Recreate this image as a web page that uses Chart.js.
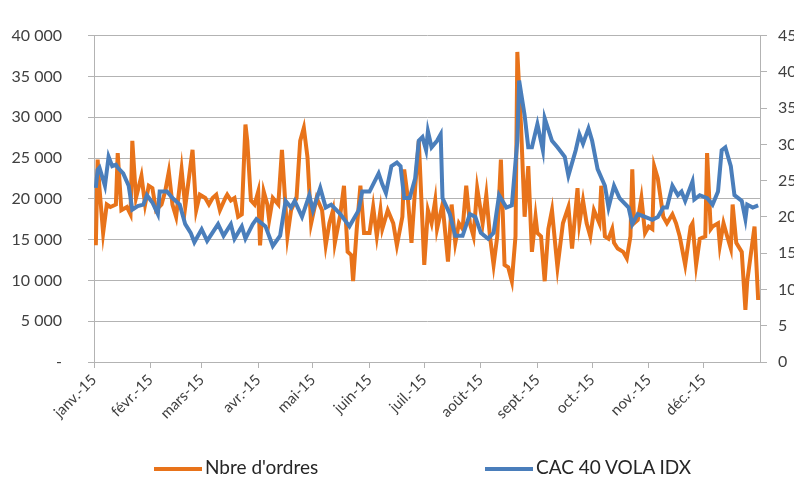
<!DOCTYPE html>
<html>
<head>
<meta charset="utf-8">
<script src="https://cdn.jsdelivr.net/npm/chart.js@4.4.1/dist/chart.umd.min.js"></script>
<style>
  html, body { margin: 0; padding: 0; background: #fff; overflow: hidden; }
  #wrap { position: relative; width: 794px; height: 485px; overflow: hidden; }
  #wrap canvas { position: absolute; left: 0; top: 0; }
  .leg { position: absolute; top: 455px; font: 19px Lato, sans-serif; color: #262626; white-space: nowrap; }
  .leg span { display: inline-block; width: 48px; height: 4px; vertical-align: middle; margin-right: 3px; }
</style>
</head>
<body>
<div id="wrap">
  <canvas id="chart" width="830" height="485"></canvas>
  <div class="leg" style="left:154px"><span style="background:#E8731A"></span>Nbre d'ordres</div>
  <div class="leg" style="left:485px"><span style="background:#4A7EBB"></span>CAC 40 VOLA IDX</div>
</div>
<script>
// x = days since 1 Jan 2015
const monthStarts = [0, 31, 59, 90, 120, 151, 181, 212, 243, 273, 304, 334];
const monthLabels = ["janv.-15", "févr.-15", "mars-15", "avr.-15", "mai-15", "juin-15",
  "juil.-15", "août-15", "sept.-15", "oct.-15", "nov.-15", "déc.-15"];

// Nbre d'ordres (left axis)
const ordresDays = [1,2,3,5,7,9,12,13,15,18,20,21,23,26,28,30,32,34,37,39,41,43,45,48,50,54,56,58,61,63,
  65,67,69,72,73,75,77,79,81,83,84,86,88,90,91,93,95,96,98,101,103,106,108,111,113,115,117,119,122,125,
  127,129,131,132,135,137,139,141,142,144,146,148,151,153,155,157,158,161,164,166,169,170,172,174,176,178,180,181,183,185,
  187,188,191,192,194,196,198,200,202,204,206,208,210,213,215,217,219,221,223,225,227,229,231,232,234,236,238,240,242,243,
  245,247,249,251,253,254,257,260,262,265,266,268,270,272,274,277,278,280,282,284,285,287,290,292,294,295,296,298,300,302,
  304,306,307,309,312,314,317,319,321,324,327,328,330,332,335,336,338,339,342,343,345,347,349,350,352,355,357,358,362,364];
const ordres = [14300,24800,21300,15800,19300,19000,19300,25600,18600,19000,18100,27100,20100,22800,19300,21600,21300,18600,19300,20900,
  23300,19300,17800,23600,19000,26000,18600,20500,20100,19300,20100,20500,18600,20100,20500,19800,20100,17800,18100,29100,
  27100,19800,19300,20900,14300,20900,19300,17400,20100,19300,26000,15400,18600,20100,27100,28700,25100,17000,20100,18600,
  14300,17000,18600,14600,18100,21600,13500,13100,9900,16300,21600,15800,15800,19000,15400,18600,16300,18600,17000,14300,
  17800,23600,20100,14600,21300,27100,17000,11900,18600,17000,19800,16300,19300,17000,12300,19300,14600,17000,16300,21600,
  17000,15400,21300,17000,20500,15400,11900,15400,24800,11900,11600,9900,15400,38000,29100,17800,24000,13500,17800,15800,
  15400,9900,16300,18600,13900,11600,17000,19000,13900,21300,17000,19800,17000,15400,18600,17000,21600,15400,15100,16300,
  14600,13900,13500,12700,15400,23600,17000,17400,20100,15800,16600,16300,24000,22500,17800,17000,18100,17000,15400,11900,
  16600,17000,11900,15100,15400,25600,16300,16600,17000,14300,17000,15400,13900,19300,14600,13500,6400,9900,16600,7600];

// CAC 40 VOLA IDX (right axis)
const volaDays = [1,2,3,6,8,10,12,13,16,19,21,24,27,29,32,35,36,40,43,47,50,53,55,59,62,68,71,75,77,81,
  83,87,89,94,98,102,105,108,110,114,118,120,124,127,130,135,140,145,147,151,156,158,160,163,166,168,170,173,176,178,
  180,182,183,185,188,190,191,195,198,202,206,209,212,216,219,222,226,229,232,233,236,238,240,243,246,247,251,254,258,260,
  264,266,268,271,273,276,280,282,285,288,293,295,298,302,306,309,312,314,317,320,322,324,328,329,332,336,339,342,344,346,
  349,351,355,357,358,361,364];
const vola = [24.0,26.5,26.8,24.3,28.3,27.0,27.2,26.8,26.0,24.3,21.0,21.5,21.7,23.0,22.0,20.4,23.5,23.5,22.6,21.7,19.0,17.8,16.5,18.3,16.7,19.0,17.4,19.0,17.0,18.7,
  17.0,19.0,19.7,18.7,16.0,17.4,22.2,21.3,22.2,20.0,23.0,20.9,24.0,21.3,21.7,20.4,18.7,20.9,23.5,23.5,26.0,24.5,23.3,27.0,27.5,27.0,22.6,22.6,25.3,30.5,
  31.0,29.2,31.8,29.6,30.5,31.4,22.6,20.4,17.4,17.4,20.4,20.0,17.8,17.0,17.8,23.0,21.3,21.6,30.5,38.8,34.0,29.6,29.6,32.8,29.2,33.6,30.5,29.6,28.3,25.7,
  29.2,31.4,30.1,32.2,30.5,26.6,24.3,21.3,24.3,22.6,21.3,19.0,20.4,20.0,19.6,20.0,21.3,21.3,24.3,23.0,23.5,22.2,24.9,22.4,23.0,22.6,21.7,23.5,29.2,29.6,
  27.0,23.0,22.2,19.7,21.7,21.3,21.6];

const leftTicks = [0, 5000, 10000, 15000, 20000, 25000, 30000, 35000, 40000];
const rightTicks = [0, 5, 10, 15, 20, 25, 30, 35, 40, 45];

const fmt = (v) => v === 0 ? "-" : String(v).replace(/\B(?=(\d{3})+(?!\d))/g, " ");
const tickFont = { family: "Lato, sans-serif", size: 16 };
const gridGray = "#b3b3b3";

new Chart(document.getElementById("chart"), {
  type: "line",
  data: {
    datasets: [
      {
        label: "CAC 40 VOLA IDX",
        data: volaDays.map((d, i) => ({ x: d, y: vola[i] })),
        yAxisID: "y1",
        borderColor: "#4A7EBB",
        borderWidth: 4,
        pointRadius: 0,
        tension: 0,
        order: 0,
      },
      {
        label: "Nbre d'ordres",
        data: ordresDays.map((d, i) => ({ x: d, y: ordres[i] })),
        yAxisID: "y",
        borderColor: "#E8731A",
        borderWidth: 4,
        pointRadius: 0,
        tension: 0,
        order: 1,
      },
    ],
  },
  options: {
    responsive: false,
    animation: false,
    layout: { padding: { top: 20, left: 0, right: 0, bottom: 0 } },
    plugins: { legend: { display: false }, tooltip: { enabled: false } },
    scales: {
      x: {
        type: "linear",
        min: 0,
        max: 365,
        afterBuildTicks: (s) => { s.ticks = monthStarts.map((v) => ({ value: v })); },
        afterFit: (s) => { s.height = 123; },
        grid: { display: true, drawOnChartArea: false, color: gridGray, tickLength: 6 },
        border: { color: gridGray },
        ticks: {
          autoSkip: false,
          minRotation: 45,
          maxRotation: 45,
          color: "#404040",
          font: { family: "Lato, sans-serif", size: 15 },
          callback: (v) => monthLabels[monthStarts.indexOf(v)],
        },
      },
      y: {
        position: "left",
        min: 0,
        max: 40000,
        afterBuildTicks: (s) => { s.ticks = leftTicks.map((v) => ({ value: v })); },
        afterFit: (s) => { s.width = 94; },
        grid: { color: gridGray, tickLength: 6 },
        border: { color: gridGray },
        ticks: { color: "#404040", font: tickFont, padding: 26, callback: fmt },
      },
      y1: {
        position: "right",
        min: 0,
        max: 45,
        afterBuildTicks: (s) => { s.ticks = rightTicks.map((v) => ({ value: v })); },
        afterFit: (s) => { s.width = 70; },
        grid: { drawOnChartArea: false, color: gridGray, tickLength: 7 },
        border: { color: gridGray },
        ticks: { color: "#404040", font: tickFont, padding: 11 },
      },
    },
  },
});
</script>
</body>
</html>
